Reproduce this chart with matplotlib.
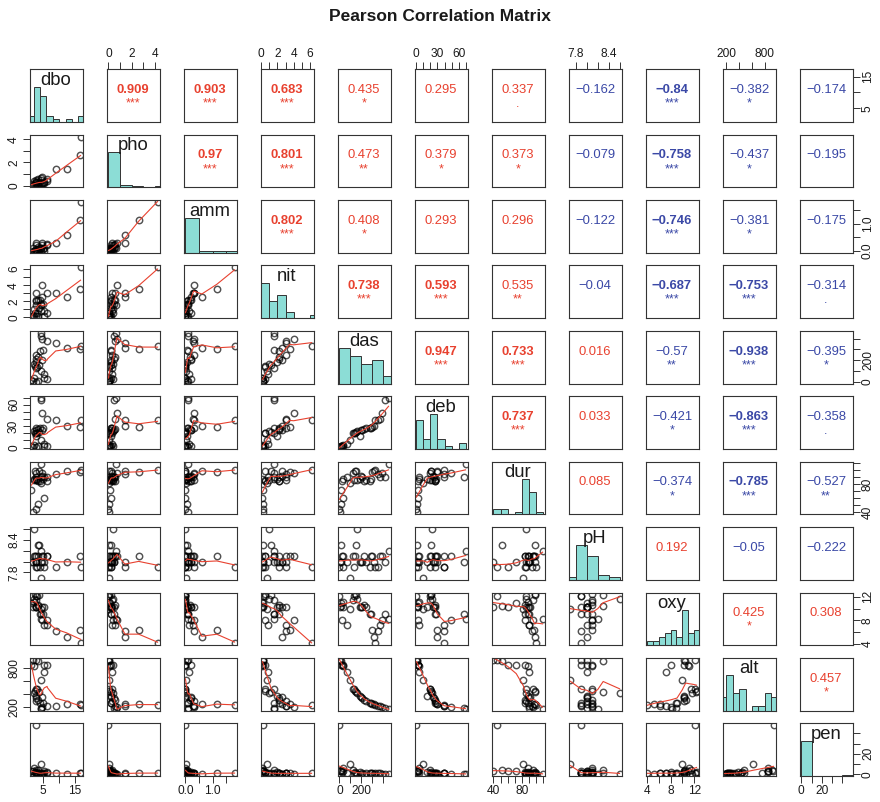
import numpy as np
import matplotlib
matplotlib.use('Agg')
import matplotlib.pyplot as plt
from math import floor, ceil, log10

plt.rcParams['font.family'] = ['Liberation Sans', 'DejaVu Sans']

# ---------------- data (Doubs environmental variables, 29 sites) ----------------
names = ['dbo', 'pho', 'amm', 'nit', 'das', 'deb', 'dur', 'pH', 'oxy', 'alt', 'pen']

dbo = [2.7, 1.9, 3.5, 1.3, 6.2, 5.3, 2.2, 5.2, 4.3, 2.7, 3.0, 2.4, 3.8, 2.1, 2.7,
       4.6, 2.8, 3.3, 2.8, 4.1, 4.8, 16.4, 12.3, 16.7, 8.9, 6.3, 4.5, 4.2, 4.4]
pho = [0.01, 0.02, 0.05, 0.10, 0.38, 0.20, 0.07, 0.30, 0.06, 0.30, 0.04, 0.06, 0.27,
       0.40, 0.20, 0.20, 0.50, 0.60, 0.30, 0.20, 0.20, 2.60, 1.40, 4.22, 1.43, 0.58,
       0.74, 0.45, 0.65]
amm = [0.00, 0.10, 0.05, 0.00, 0.20, 0.00, 0.00, 0.12, 0.01, 0.00, 0.00, 0.00, 0.00,
       0.00, 0.05, 0.20, 0.20, 0.15, 0.30, 0.10, 0.07, 1.15, 0.60, 1.80, 0.30, 0.26,
       0.30, 0.10, 0.10]
nit = [0.20, 0.20, 0.22, 0.21, 0.52, 0.15, 0.15, 0.82, 0.75, 1.60, 0.50, 0.52, 1.23,
       1.00, 2.00, 2.50, 2.20, 2.20, 3.00, 2.20, 1.62, 3.50, 2.50, 6.20, 3.00, 3.00,
       4.00, 1.62, 1.60]
das = [0.3, 2.2, 10.2, 18.5, 21.5, 32.4, 36.8, 70.5, 99.0, 123.4, 132.4, 143.6, 152.2,
       164.5, 185.9, 198.5, 211.0, 224.6, 247.7, 282.1, 294.0, 304.3, 314.7, 327.8,
       356.9, 373.2, 394.7, 422.0, 453.0]
deb = [0.84, 1.00, 1.80, 2.53, 2.64, 2.86, 4.00, 4.80, 10.00, 19.90, 20.00, 21.10,
       21.20, 23.00, 16.10, 24.30, 25.00, 25.90, 26.80, 27.20, 27.90, 28.80, 29.76,
       38.70, 39.10, 39.60, 48.50, 66.80, 69.00]
dur = [45, 40, 52, 72, 84, 60, 88, 90, 82, 96, 86, 98, 98, 86, 88, 92, 90, 84, 86, 85,
       88, 97, 99, 100, 94, 90, 96, 90, 109]
pH = [7.9, 8.0, 8.3, 8.0, 8.1, 7.9, 8.1, 8.0, 7.7, 8.1, 7.9, 8.1, 8.3, 8.6, 8.0, 8.0,
      8.0, 8.1, 8.0, 7.9, 8.1, 8.1, 8.0, 7.9, 7.9, 8.1, 8.1, 8.0, 8.2]
oxy = [12.2, 10.3, 10.5, 11.0, 8.0, 10.2, 11.1, 7.2, 10.0, 11.5, 12.2, 12.4, 12.3, 11.7,
       10.3, 10.2, 10.3, 10.6, 10.3, 9.0, 9.1, 6.3, 5.2, 4.1, 6.2, 7.2, 8.1, 9.0, 8.2]
alt = [934, 932, 914, 854, 849, 846, 841, 752, 617, 483, 477, 450, 434, 415, 375, 348,
       332, 310, 286, 262, 254, 246, 241, 231, 214, 206, 195, 183, 172]
pen = [48.0, 3.0, 3.7, 3.2, 2.3, 3.2, 6.6, 1.2, 9.9, 4.1, 1.6, 2.1, 1.2, 0.5, 2.0, 0.5,
       0.8, 0.5, 0.8, 1.0, 1.4, 1.4, 0.4, 1.0, 1.2, 1.2, 0.3, 0.6, 0.2]

# correlation coefficients and significance stars as printed (upper triangle, row-wise)
cor_values = [0.909, 0.903, 0.683, 0.435, 0.295, 0.337, -0.162, -0.84, -0.382, -0.174,
              0.97, 0.801, 0.473, 0.379, 0.373, -0.079, -0.758, -0.437, -0.195,
              0.802, 0.408, 0.293, 0.296, -0.122, -0.746, -0.381, -0.175,
              0.738, 0.593, 0.535, -0.04, -0.687, -0.753, -0.314,
              0.947, 0.733, 0.016, -0.57, -0.938, -0.395,
              0.737, 0.033, -0.421, -0.863, -0.358,
              0.085, -0.374, -0.785, -0.527,
              0.192, -0.05, -0.222,
              0.425, 0.308,
              0.457]
cor_stars = ['***', '***', '***', '*', '', '.', '', '***', '*', '',
             '***', '***', '**', '*', '*', '', '***', '*', '',
             '***', '*', '', '', '', '***', '*', '',
             '***', '***', '**', '', '***', '***', '.',
             '***', '***', '', '**', '***', '*',
             '***', '', '*', '***', '.',
             '', '*', '***', '**',
             '', '', '',
             '*', '',
             '*']

# tick labels that are printed on each variable's axis
tick_labels = {'dbo': [5, 15], 'pho': [0, 2, 4], 'amm': [0.0, 1.0], 'nit': [0, 2, 4, 6],
               'das': [0, 200], 'deb': [0, 30, 60], 'dur': [40, 80], 'pH': [7.8, 8.4],
               'oxy': [4, 8, 12], 'alt': [200, 800], 'pen': [0, 20]}
tick_fmt = {'amm': '{:.1f}', 'pH': '{:.1f}'}

data = [np.array(v, dtype=float) for v in
        [dbo, pho, amm, nit, das, deb, dur, pH, oxy, alt, pen]]
nv = len(names)

# ---------------- helpers ----------------
def rpretty(lo, hi, n, h, h5):
    cell = (hi - lo) / n
    U = 10 ** floor(log10(cell))
    unit = U
    if 2 * U - cell < h * (cell - unit):
        unit = 2 * U
        if 5 * U - cell < h5 * (cell - unit):
            unit = 5 * U
            if 10 * U - cell < h * (cell - unit):
                unit = 10 * U
    ns = floor(lo / unit + 1e-7)
    nu = ceil(hi / unit - 1e-7)
    return np.round(np.arange(ns, nu + 1) * unit, 10)


def usr(v):
    lo, hi = v.min(), v.max()
    d = (hi - lo) * 0.04
    return lo - d, hi + d


def axis_ticks(v):
    lo, hi = usr(v)
    t = rpretty(lo, hi, 5, 0.8, 1.7)
    return t[(t >= lo - 1e-9) & (t <= hi + 1e-9)]


def rlowess(x, y, f=2 / 3, it=3):
    o = np.argsort(x, kind='stable')
    x = np.asarray(x, float)[o]
    y = np.asarray(y, float)[o]
    n = len(x)
    ns = max(min(int(f * n + 1e-7), n), 2)
    delta = 0.01 * (x[-1] - x[0])
    rw = np.ones(n)
    ys = np.zeros(n)
    rng = x[-1] - x[0]

    def lowest(xs, nleft, nright, userw):
        h = max(xs - x[nleft], x[nright] - xs)
        h9, h1 = 0.999 * h, 0.001 * h
        w = np.zeros(n)
        a = 0.0
        j = nleft
        while j < n:
            r = abs(x[j] - xs)
            if r <= h9:
                w[j] = 1.0 if r <= h1 else (1 - (r / h) ** 3) ** 3
                if userw:
                    w[j] *= rw[j]
                a += w[j]
            elif x[j] > xs:
                break
            j += 1
        nrt = j - 1
        if a <= 0:
            return None
        w[nleft:nrt + 1] /= a
        if h > 0:
            a = np.sum(w[nleft:nrt + 1] * x[nleft:nrt + 1])
            b = xs - a
            c = np.sum(w[nleft:nrt + 1] * (x[nleft:nrt + 1] - a) ** 2)
            if np.sqrt(c) > 0.001 * rng:
                b /= c
                w[nleft:nrt + 1] *= (b * (x[nleft:nrt + 1] - a) + 1)
        return np.sum(w[nleft:nrt + 1] * y[nleft:nrt + 1])

    iiter = 1
    while iiter <= it + 1:
        nleft, nright, last, i = 0, ns - 1, -1, 0
        while True:
            if nright < n - 1:
                d1 = x[i] - x[nleft]
                d2 = x[nright + 1] - x[i]
                if d1 > d2:
                    nleft += 1
                    nright += 1
                    continue
            val = lowest(x[i], nleft, nright, iiter > 1)
            ys[i] = y[i] if val is None else val
            if last < i - 1:
                denom = x[i] - x[last]
                for j in range(last + 1, i):
                    al = (x[j] - x[last]) / denom
                    ys[j] = al * ys[i] + (1 - al) * ys[last]
            last = i
            cut = x[last] + delta
            i = last + 1
            while i < n:
                if x[i] > cut:
                    break
                if x[i] == x[last]:
                    ys[i] = ys[last]
                    last = i
                i += 1
            i = max(last + 1, i - 1)
            if last >= n - 1:
                break
        if iiter > it:
            break
        res = y - ys
        sc = np.mean(np.abs(res))
        ar = np.sort(np.abs(res))
        m1 = n // 2
        if n % 2 == 0:
            cmad = 3 * (ar[m1] + ar[n - m1 - 1])
        else:
            cmad = 6 * ar[m1]
        if cmad < 1e-7 * sc:
            break
        r = np.abs(res)
        rw = np.where(r <= 0.001 * cmad, 1.0,
                      np.where(r <= 0.999 * cmad, (1 - (r / cmad) ** 2) ** 2, 0.0))
        iiter += 1
    return x, ys


def fmt(name, t):
    return tick_fmt.get(name, '{:g}').format(t)


def set_ticks(ax, side, k, transform=None):
    name = names[k]
    t = axis_ticks(data[k])
    labs = [fmt(name, v) if any(abs(v - L) < 1e-9 for L in tick_labels[name]) else ''
            for v in t]
    pos = t if transform is None else transform(t)
    kw = dict(direction='out', length=5.3, width=0.7, color='#333333', pad=1.5,
              labelsize=8.6, labelcolor='#1a1a1a')
    if side in ('top', 'bottom'):
        ax.set_xticks(pos)
        ax.set_xticklabels(labs)
        ax.tick_params(axis='x', top=(side == 'top'), bottom=(side == 'bottom'),
                       labeltop=(side == 'top'), labelbottom=(side == 'bottom'), **kw)
    else:
        ax.set_yticks(pos)
        ax.set_yticklabels(labs, rotation=90, va='center')
        ax.tick_params(axis='y', left=(side == 'left'), right=(side == 'right'),
                       labelleft=(side == 'left'), labelright=(side == 'right'), **kw)


# ---------------- figure ----------------
W, H = 880, 802
fig = plt.figure(figsize=(W / 100, H / 100), dpi=100)
X0, DX, PW = 29.5, 77.0, 53.0
Y0, DY, PH = 69.3, 65.4, 52.7

RED = '#E8412F'
BLUE = '#3A48A6'
HISTC = '#8CDDD6'

fig.text(0.5, 1 - 20.7 / H, 'Pearson Correlation Matrix', ha='center', va='baseline',
         fontsize=12.5, fontweight='bold', color='#1a1a1a')

k_up = 0
for i in range(nv):
    for j in range(nv):
        ax = fig.add_axes([(X0 + DX * j) / W, 1 - (Y0 + DY * i + PH) / H, PW / W, PH / H])
        for s in ax.spines.values():
            s.set_color('#333333')
            s.set_linewidth(0.8)
        ax.set_xticks([])
        ax.set_yticks([])
        xlo, xhi = usr(data[j])
        ylo, yhi = usr(data[i])
        if i == j:
            v = data[i]
            br = rpretty(v.min(), v.max(), 6, 1.5, 2.75)
            idx = np.searchsorted(br, v, side='left') - 1
            idx[idx < 0] = 0
            cnt = np.bincount(idx, minlength=len(br) - 1)[:len(br) - 1]
            ax.bar(br[:-1], cnt / cnt.max(), width=np.diff(br), align='edge',
                   color=HISTC, edgecolor='#333333', linewidth=0.7)
            ax.text(0.5, 0.705, names[i], transform=ax.transAxes, ha='center',
                    va='baseline', fontsize=13.3, color='#1a1a1a')
            ylo, yhi = 0, 1.5
        elif i > j:
            x, y = data[j], data[i]
            ax.plot(x, y, linestyle='none', marker='o', ms=4.6, mfc='none',
                    mec=(0, 0, 0, 0.68), mew=1.05)
            lx, ly = rlowess(x, y)
            ax.plot(lx, ly, color=RED, lw=0.8)
        else:
            r = cor_values[k_up]
            st = cor_stars[k_up]
            k_up += 1
            col = RED if r > 0 else BLUE
            wt = 'bold' if st == '***' else 'normal'
            txt = '{:g}'.format(r).replace('-', '\u2212')
            ax.text(0.5, 0.55, txt, transform=ax.transAxes, ha='center',
                    va='baseline', fontsize=9.4, color=col, fontweight=wt)
            if st:
                ax.text(0.5, 0.29, st, transform=ax.transAxes, ha='center',
                        va='baseline', fontsize=9.0, color=col)
        # outer axes
        if i == 0 and j % 2 == 1:
            set_ticks(ax, 'top', j)
        if i == nv - 1 and j % 2 == 0:
            set_ticks(ax, 'bottom', j)
        if j == 0 and i % 2 == 1:
            set_ticks(ax, 'left', i)
        if j == nv - 1 and i % 2 == 0:
            if i == j:
                lo, hi = usr(data[i])
                set_ticks(ax, 'right', i, transform=lambda t, lo=lo, hi=hi:
                          (t - lo) / (hi - lo) * 1.5)
            else:
                set_ticks(ax, 'right', i)
        ax.set_xlim(xlo, xhi)
        ax.set_ylim(ylo, yhi)

fig.savefig('out.png', dpi=100)
